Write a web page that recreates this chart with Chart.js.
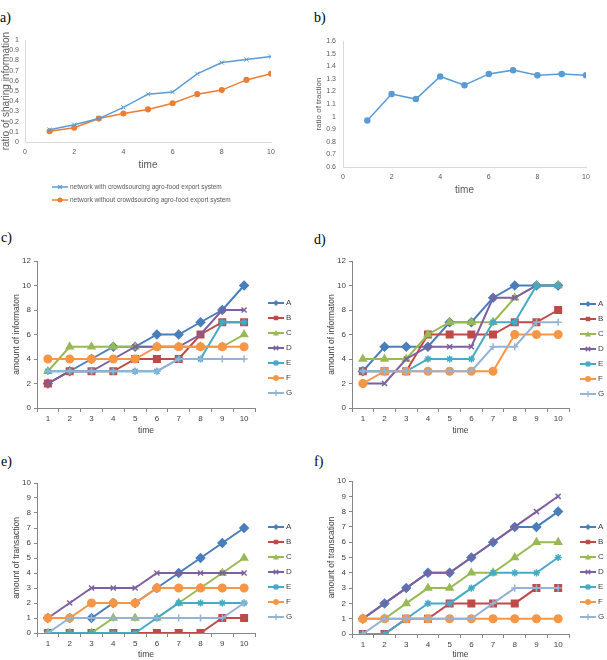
<!DOCTYPE html>
<html lang="en">
<head>
    <meta charset="UTF-8">
    <title>Crowdsourcing agro-food export system - simulation results</title>
    <style>
        body {
            margin: 0;
            background: #fff;
            font-family: "Liberation Sans", Arial, sans-serif;
        }
        #page {
            position: relative;
            width: 607px;
            height: 660px;
            overflow: hidden;
        }
        .panel {
            position: absolute;
        }
        .tag {
            position: absolute;
            font-family: "Liberation Serif", "Times New Roman", serif;
            font-size: 14px;
            line-height: 14px;
            color: #000;
        }
    </style>
</head>
<body>
<div id="page">
    <div class="tag" style="left:0;top:11px">a)</div>
    <div class="tag" style="left:314px;top:11px">b)</div>
    <div class="tag" style="left:1px;top:231px">c)</div>
    <div class="tag" style="left:314px;top:233px">d)</div>
    <div class="tag" style="left:1px;top:455px">e)</div>
    <div class="tag" style="left:314px;top:455px">f)</div>

    <div class="panel" style="left:0;top:30px;width:300px;height:185px"><canvas id="chartA"></canvas></div>
    <div class="panel" style="left:300px;top:30px;width:307px;height:185px"><canvas id="chartB"></canvas></div>
    <div class="panel" style="left:0;top:245px;width:300px;height:200px"><canvas id="chartC"></canvas></div>
    <div class="panel" style="left:300px;top:245px;width:307px;height:200px"><canvas id="chartD"></canvas></div>
    <div class="panel" style="left:0;top:470px;width:300px;height:190px"><canvas id="chartE"></canvas></div>
    <div class="panel" style="left:300px;top:470px;width:307px;height:190px"><canvas id="chartF"></canvas></div>
</div>

<script src="https://cdn.jsdelivr.net/npm/chart.js"></script>
<script>
    // ---- data ----
    const time = [1, 2, 3, 4, 5, 6, 7, 8, 9, 10];
    const timeLabels = ['1', '2', '3', '4', '5', '6', '7', '8', '9', '10'];

    // a) ratio of sharing information
    const shareWithCrowd = [0.12, 0.17, 0.23, 0.34, 0.47, 0.49, 0.67, 0.78, 0.81, 0.84];
    const shareWithoutCrowd = [0.105, 0.14, 0.23, 0.28, 0.32, 0.38, 0.47, 0.51, 0.61, 0.67];
    const shareLabels = ['network with crowdsourcing agro-food export system',
        'network without crowdsourcing agro-food export system'];

    // b) ratio of traction
    const tractionRatio = [0.97, 1.18, 1.14, 1.32, 1.25, 1.34, 1.37, 1.33, 1.34, 1.33];

    const nodes = ['A', 'B', 'C', 'D', 'E', 'F', 'G'];

    // c) amount of information, one row per node A..G
    const infoC = [
        [2, 3, 4, 5, 5, 6, 6, 7, 8, 10],
        [2, 3, 3, 3, 4, 4, 4, 6, 7, 7],
        [3, 5, 5, 5, 5, 5, 5, 5, 5, 6],
        [2, 3, 3, 4, 5, 5, 5, 6, 8, 8],
        [3, 3, 3, 3, 3, 3, 4, 4, 7, 7],
        [4, 4, 4, 4, 4, 5, 5, 5, 5, 5],
        [3, 3, 3, 3, 3, 3, 4, 4, 4, 4]
    ];

    // d) amount of information
    const infoD = [
        [3, 5, 5, 5, 7, 7, 9, 10, 10, 10],
        [3, 3, 3, 6, 6, 6, 6, 7, 7, 8],
        [4, 4, 4, 6, 7, 7, 7, 9, 10, 10],
        [2, 2, 4, 5, 5, 5, 9, 9, 10, 10],
        [3, 3, 3, 4, 4, 4, 7, 7, 10, 10],
        [2, 3, 3, 3, 3, 3, 3, 6, 6, 6],
        [3, 3, 3, 3, 3, 3, 5, 5, 7, 7]
    ];

    // e) amount of transaction
    const transE = [
        [1, 1, 1, 2, 2, 3, 4, 5, 6, 7],
        [0, 0, 0, 0, 0, 0, 0, 0, 1, 1],
        [0, 0, 0, 1, 1, 1, 2, 3, 4, 5],
        [1, 2, 3, 3, 3, 4, 4, 4, 4, 4],
        [0, 0, 0, 0, 0, 1, 2, 2, 2, 2],
        [1, 1, 2, 2, 2, 3, 3, 3, 3, 3],
        [0, 1, 1, 1, 1, 1, 1, 1, 1, 2]
    ];

    // f) amount of transaction
    const transF = [
        [1, 2, 3, 4, 4, 5, 6, 7, 7, 8],
        [0, 0, 1, 1, 2, 2, 2, 2, 3, 3],
        [1, 1, 2, 3, 3, 4, 4, 5, 6, 6],
        [1, 2, 3, 4, 4, 5, 6, 7, 8, 9],
        [0, 0, 1, 2, 2, 3, 4, 4, 4, 5],
        [1, 1, 1, 1, 1, 1, 1, 1, 1, 1],
        [0, 1, 1, 1, 1, 1, 2, 3, 3, 3]
    ];

    // ---- styles ----
    const nodeColors = ['#4A7EBB', '#BE4B48', '#98B954', '#7D60A0', '#46AAC5', '#F79646', '#95B3D7'];
    const nodeMarkers = ['rectRot', 'rect', 'triangle', 'crossRot', 'star', 'circle', 'cross'];
    const nodeRadius = [4.2, 4.6, 4, 3.6, 3.6, 3.8, 3.6];

    Chart.defaults.font.family = '"Liberation Sans", Arial, sans-serif';
    Chart.defaults.animation = false;

    // small marker painter, used for the legends
    function drawMarker(ctx, style, x, y, r, color) {
        ctx.save();
        ctx.fillStyle = color;
        ctx.strokeStyle = color;
        ctx.lineWidth = 1.3;
        ctx.beginPath();
        const s = r * 0.75;
        switch (style) {
            case 'circle':
                ctx.arc(x, y, r, 0, Math.PI * 2);
                ctx.fill();
                break;
            case 'rect':
                ctx.rect(x - s, y - s, 2 * s, 2 * s);
                ctx.fill();
                break;
            case 'rectRot':
                ctx.moveTo(x, y - r); ctx.lineTo(x + r, y); ctx.lineTo(x, y + r); ctx.lineTo(x - r, y);
                ctx.closePath();
                ctx.fill();
                break;
            case 'triangle':
                ctx.moveTo(x, y - r); ctx.lineTo(x + r, y + r * 0.8); ctx.lineTo(x - r, y + r * 0.8);
                ctx.closePath();
                ctx.fill();
                break;
            case 'crossRot':
                ctx.moveTo(x - s, y - s); ctx.lineTo(x + s, y + s);
                ctx.moveTo(x + s, y - s); ctx.lineTo(x - s, y + s);
                ctx.stroke();
                break;
            case 'star':
                ctx.moveTo(x - s, y - s); ctx.lineTo(x + s, y + s);
                ctx.moveTo(x + s, y - s); ctx.lineTo(x - s, y + s);
                ctx.moveTo(x, y - r); ctx.lineTo(x, y + r);
                ctx.stroke();
                break;
            case 'cross':
                ctx.moveTo(x, y - r); ctx.lineTo(x, y + r);
                ctx.moveTo(x - r, y); ctx.lineTo(x + r, y);
                ctx.stroke();
                break;
        }
        ctx.restore();
    }

    // legend drawn as line + marker + label, like the spreadsheet one
    const markerLegend = {
        id: 'markerLegend',
        afterDraw(chart, args, opts) {
            const ctx = chart.ctx;
            chart.data.datasets.forEach((ds, i) => {
                const y = opts.y + i * opts.dy;
                ctx.save();
                ctx.strokeStyle = ds.borderColor;
                ctx.lineWidth = ds.borderWidth;
                ctx.beginPath();
                ctx.moveTo(opts.x, y);
                ctx.lineTo(opts.x + opts.len, y);
                ctx.stroke();
                drawMarker(ctx, ds.pointStyle, opts.x + opts.len / 2, y, opts.r, ds.borderColor);
                ctx.fillStyle = opts.color;
                ctx.font = opts.font;
                ctx.textBaseline = 'middle';
                ctx.textAlign = 'left';
                ctx.fillText(ds.label, opts.x + opts.len + opts.gap, y);
                ctx.restore();
            });
        }
    };

    // spreadsheet style numbers: 1 not 1.0
    const oneDecimal = v => String(Math.round(v * 10) / 10);

    // ---- a) and b): newer spreadsheet look ----
    function ratioScales(yMin, yMax, yTitle, yTitleSize, yWidth, yPad) {
        return {
            x: {
                type: 'linear',
                min: 0,
                max: 10,
                ticks: { stepSize: 2, color: '#595959', font: { size: 7 }, padding: 6 },
                grid: { display: false, drawTicks: false },
                border: { color: '#D9D9D9' },
                title: { display: true, text: 'time', color: '#595959', font: { size: 10 }, padding: { top: 0, bottom: 1 } },
                afterFit: s => { s.height = 30; }
            },
            y: {
                min: yMin,
                max: yMax,
                ticks: { stepSize: 0.1, autoSkip: false, callback: oneDecimal, color: '#595959', font: { size: 7 }, padding: yPad },
                grid: { display: false, drawTicks: false },
                border: { color: '#D9D9D9' },
                title: { display: true, text: yTitle, color: '#595959', font: { size: yTitleSize }, padding: 0 },
                afterFit: s => { s.width = yWidth; }
            }
        };
    }

    new Chart(document.getElementById('chartA'), {
        type: 'line',
        data: {
            datasets: [
                {
                    label: shareLabels[0],
                    data: time.map((t, i) => ({ x: t, y: shareWithCrowd[i] })),
                    borderColor: '#5B9BD5',
                    backgroundColor: '#5B9BD5',
                    borderWidth: 1.5,
                    pointStyle: 'crossRot',
                    pointRadius: 3,
                    pointBorderWidth: 1,
                    tension: 0
                },
                {
                    label: shareLabels[1],
                    data: time.map((t, i) => ({ x: t, y: shareWithoutCrowd[i] })),
                    borderColor: '#ED7D31',
                    backgroundColor: '#ED7D31',
                    borderWidth: 1.5,
                    pointStyle: 'circle',
                    pointRadius: 2.3,
                    tension: 0
                }
            ]
        },
        options: {
            responsive: true,
            maintainAspectRatio: false,
            layout: { padding: { left: 0, top: 10, right: 29, bottom: 43 } },
            scales: ratioScales(0, 1, 'ratio of sharing information', 10, 25, 6),
            plugins: {
                legend: { display: false },
                tooltip: { enabled: false },
                markerLegend: { x: 52, y: 157, dy: 13, len: 16, gap: 2, r: 2.5, font: '6.5px "Liberation Sans", Arial, sans-serif', color: '#595959' }
            }
        },
        plugins: [markerLegend]
    });

    new Chart(document.getElementById('chartB'), {
        type: 'line',
        data: {
            datasets: [{
                label: 'ratio of traction',
                data: time.map((t, i) => ({ x: t, y: tractionRatio[i] })),
                borderColor: '#5B9BD5',
                backgroundColor: '#5B9BD5',
                borderWidth: 1.5,
                pointStyle: 'circle',
                pointRadius: 2.5,
                tension: 0
            }]
        },
        options: {
            responsive: true,
            maintainAspectRatio: false,
            layout: { padding: { left: 14, top: 8, right: 21, bottom: 18 } },
            scales: ratioScales(0.6, 1.6, 'ratio of traction', 8, 29, 7),
            plugins: { legend: { display: false }, tooltip: { enabled: false } }
        }
    });

    // ---- c) to f): node charts, older spreadsheet look ----
    function nodeChart(id, rows, yMax, yStep, yTitle, frame) {
        const datasets = rows.map((vals, i) => ({
            label: nodes[i],
            data: vals,
            borderColor: nodeColors[i],
            backgroundColor: nodeColors[i],
            borderWidth: 2,
            pointStyle: nodeMarkers[i],
            pointRadius: nodeRadius[i],
            pointBorderWidth: 1.5,
            order: rows.length - i,
            tension: 0
        }));
        const axisGrey = '#868686';
        return new Chart(document.getElementById(id), {
            type: 'line',
            data: { labels: timeLabels, datasets },
            options: {
                responsive: true,
                maintainAspectRatio: false,
                layout: { padding: frame.pad },
                scales: {
                    x: {
                        offset: true,
                        ticks: { color: '#404040', font: { size: 8 }, padding: 2, autoSkip: false, maxRotation: 0 },
                        grid: { drawOnChartArea: false, drawTicks: true, tickLength: 4, offset: true, color: axisGrey },
                        border: { color: axisGrey },
                        title: { display: true, text: 'time', color: '#404040', font: { size: 8.5 }, padding: { top: 0, bottom: frame.timePad } },
                        afterFit: s => { s.height = frame.xHeight; }
                    },
                    y: {
                        min: 0,
                        max: yMax,
                        ticks: { stepSize: yStep, autoSkip: false, color: '#404040', font: { size: 8 }, padding: 3 },
                        grid: { drawOnChartArea: false, drawTicks: true, tickLength: 3, color: axisGrey },
                        border: { color: axisGrey },
                        title: { display: true, text: yTitle, color: '#404040', font: { size: 8.5 }, padding: 0 },
                        afterFit: s => { s.width = 25; }
                    }
                },
                plugins: {
                    legend: { display: false },
                    tooltip: { enabled: false },
                    markerLegend: { x: frame.legendX, y: frame.legendY, dy: 15, len: 16, gap: 2, r: 3, font: '8px "Liberation Sans", Arial, sans-serif', color: '#404040' }
                }
            },
            plugins: [markerLegend]
        });
    }

    nodeChart('chartC', infoC, 12, 2, 'amount of informaton',
        { pad: { left: 12, top: 16, right: 45, bottom: 7 }, xHeight: 30, timePad: 2, legendX: 268, legendY: 58 });
    nodeChart('chartD', infoD, 12, 2, 'amount of informaton',
        { pad: { left: 27, top: 16, right: 38, bottom: 7 }, xHeight: 30, timePad: 2, legendX: 280, legendY: 59 });
    nodeChart('chartE', transE, 10, 1, 'amount of transaction',
        { pad: { left: 12, top: 13, right: 45, bottom: 0 }, xHeight: 27, timePad: 0, legendX: 268, legendY: 57 });
    nodeChart('chartF', transF, 10, 1, 'amount of transcation',
        { pad: { left: 27, top: 11, right: 38, bottom: 0 }, xHeight: 26, timePad: 0, legendX: 280, legendY: 57 });
</script>
</body>
</html>
